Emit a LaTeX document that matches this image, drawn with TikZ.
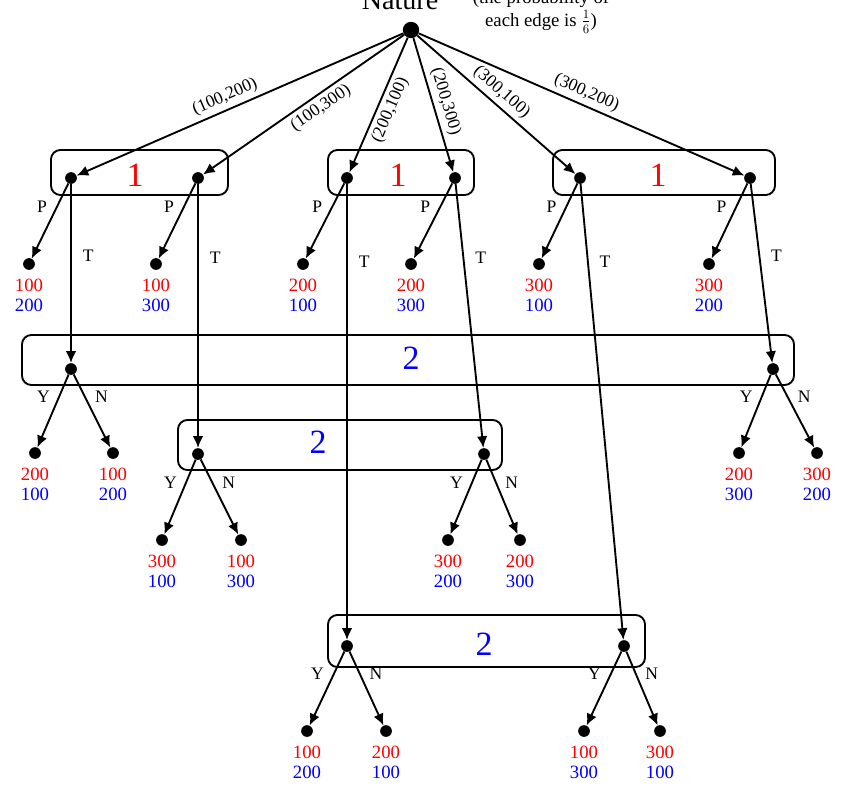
\documentclass[tikz,border=0pt]{standalone}
\usepackage{fontspec}
\setmainfont{Liberation Serif}
\usetikzlibrary{arrows.meta, positioning, fit}

\begin{document}
\begin{tikzpicture}[
    x=0.03cm, y=-0.03cm,
    dot/.style={circle, fill=black, inner sep=0pt, minimum size=10pt},
    root/.style={circle, fill=black, inner sep=0pt, minimum size=14pt},
    arrow/.style={-{Latex[length=10pt, width=9pt]}, line width=1.6pt},
    info/.style={draw, rounded corners=8pt, line width=1.6pt, inner sep=0pt},
    lbl/.style={font=\fontsize{15}{16}\selectfont},
    pay/.style={font=\fontsize{16}{17}\selectfont, inner sep=1pt},
    pl/.style={font=\fontsize{29}{30}\selectfont},
  ]
    \useasboundingbox (0,0) rectangle (844,805);
    \clip (0,0) rectangle (844,805);

    % Nature
    \node[root] (nat) at (411,30) {};
    \node[font=\fontsize{24}{26}\selectfont] at (400,0) {Nature};
    \node[font=\fontsize{16}{19}\selectfont, align=center] at (541,12)
      {(the probability of\\ each edge is $\frac{1}{6}$)};

    % Player 1 information sets
    \node[info, minimum width=177*0.03cm, minimum height=45*0.03cm] (p1a) at (139.5,172.5) {};
    \node[info, minimum width=146*0.03cm, minimum height=45*0.03cm] (p1b) at (401,172.5) {};
    \node[info, minimum width=222*0.03cm, minimum height=45*0.03cm] (p1c) at (664,172.5) {};
    \foreach \x in {135,398,658}
      \node[pl, red] at (\x,175) {1};
    \node[dot] (a1) at (71,178) {};
    \node[dot] (a2) at (198,178) {};
    \node[dot] (b1) at (347,178) {};
    \node[dot] (b2) at (455,178) {};
    \node[dot] (c1) at (580,178) {};
    \node[dot] (c2) at (750,178) {};

    % Player 2 information sets
    \node[info, minimum width=772*0.03cm, minimum height=50*0.03cm] (p2a) at (408,360) {};
    \node[info, minimum width=324*0.03cm, minimum height=50*0.03cm] (p2b) at (340,445) {};
    \node[info, minimum width=317*0.03cm, minimum height=52*0.03cm] (p2c) at (486.5,641) {};
    \node[pl, blue] at (411,358) {2};
    \node[pl, blue] at (318,442) {2};
    \node[pl, blue] at (484,644) {2};
    \node[dot] (d1) at (71,369) {};
    \node[dot] (d2) at (773,369) {};
    \node[dot] (e1) at (198,454) {};
    \node[dot] (e2) at (484,454) {};
    \node[dot] (f1) at (347,646) {};
    \node[dot] (f2) at (624,646) {};

    % Nature's moves
    \draw[arrow] (nat) -- node[lbl, sloped, above, pos=0.53] {(100,200)} (a1);
    \draw[arrow] (nat) -- node[lbl, sloped, below, pos=0.45] {(100,300)} (a2);
    \draw[arrow] (nat) -- node[lbl, sloped, below, pos=0.5] {(200,100)} (b1);
    \draw[arrow] (nat) -- node[lbl, sloped, above, pos=0.5] {(200,300)} (b2);
    \draw[arrow] (nat) -- node[lbl, sloped, above, pos=0.48] {(300,100)} (c1);
    \draw[arrow] (nat) -- node[lbl, sloped, above, pos=0.5] {(300,200)} (c2);

    % Player 1: P ends the game, T passes to player 2
    \foreach \s/\lx/\r/\b in {a1/29/100/200, a2/156/100/300, b1/303/200/100,
                              b2/411/200/300, c1/539/300/100, c2/709/300/200} {
      \node[dot] (\s p) at (\lx,264) {};
      \draw[arrow] (\s) -- node[lbl, above left, pos=0.45] {P} (\s p);
      \node[pay, red, below=6pt of \s p] (\s r) {\r};
      \node[pay, blue, below=4pt of \s r] {\b};
    }
    \draw[arrow] (a1) -- node[lbl, right=6pt, pos=0.4] {T} (d1);
    \draw[arrow] (a2) -- node[lbl, right=6pt, pos=0.28] {T} (e1);
    \draw[arrow] (b1) -- node[lbl, right=6pt, pos=0.17] {T} (f1);
    \draw[arrow] (b2) -- node[lbl, right=6pt, pos=0.28] {T} (e2);
    \draw[arrow] (c1) -- node[lbl, right=6pt, pos=0.17] {T} (f2);
    \draw[arrow] (c2) -- node[lbl, right=6pt, pos=0.4] {T} (d2);

    % Player 2: Y / N
    \foreach \s/\yx/\nx/\ly/\ry/\by/\rn/\bn in {
        d1/35/113/453/200/100/100/200, d2/739/817/453/200/300/300/200,
        e1/162/241/540/300/100/100/300, e2/448/520/540/300/200/200/300,
        f1/307/386/731/100/200/200/100, f2/584/660/731/100/300/300/100} {
      \node[dot] (\s y) at (\yx,\ly) {};
      \node[dot] (\s n) at (\nx,\ly) {};
      \draw[arrow] (\s) -- node[lbl, above left, pos=0.45] {Y} (\s y);
      \draw[arrow] (\s) -- node[lbl, above right, pos=0.45] {N} (\s n);
      \node[pay, red, below=6pt of \s y] (\s yr) {\ry};
      \node[pay, blue, below=4pt of \s yr] {\by};
      \node[pay, red, below=6pt of \s n] (\s nr) {\rn};
      \node[pay, blue, below=4pt of \s nr] {\bn};
    }
\end{tikzpicture}
\end{document}
